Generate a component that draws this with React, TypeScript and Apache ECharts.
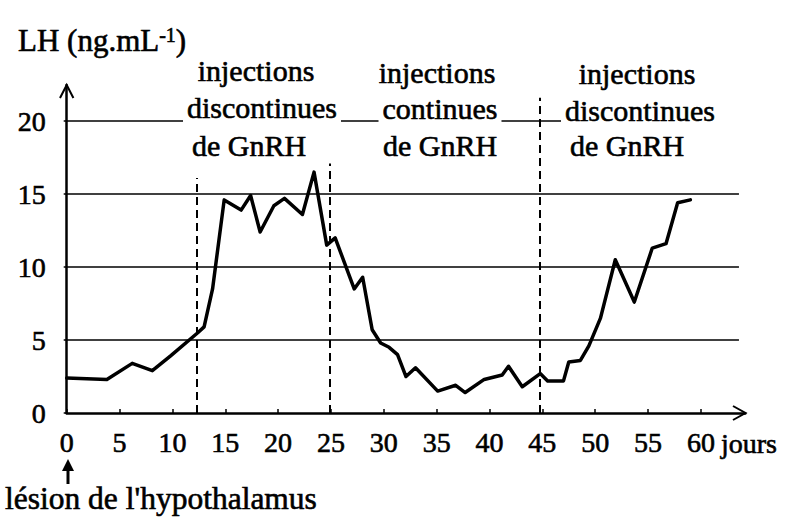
import React, { useEffect, useRef } from "react";
import * as echarts from "echarts";

// ---- data ----
const days = [0, 3.8, 6.2, 8.1, 9.8, 12.4, 13.0, 13.8, 14.9, 16.5, 17.4, 18.3, 19.6, 20.6, 22.3, 23.4, 24.6, 25.4, 27.2, 28.0, 28.9, 29.7, 30.5, 31.3, 32.1, 33.0, 35.1, 36.8, 37.7, 39.5, 41.2, 41.8, 43.1, 44.8, 45.5, 47.0, 47.5, 48.6, 49.4, 50.5, 51.9, 53.7, 55.4, 56.7, 57.8, 59.0];
const lhValues = [2.4, 2.3, 3.4, 2.9, 3.9, 5.5, 5.9, 8.5, 14.6, 13.9, 14.9, 12.4, 14.2, 14.7, 13.6, 16.5, 11.5, 12.0, 8.5, 9.3, 5.7, 4.8, 4.5, 4.0, 2.5, 3.1, 1.5, 1.9, 1.4, 2.3, 2.6, 3.2, 1.8, 2.7, 2.2, 2.2, 3.5, 3.6, 4.6, 6.5, 10.5, 7.6, 11.3, 11.6, 14.4, 14.6];

const xTickValues = [0, 5, 10, 15, 20, 25, 30, 35, 40, 45, 50, 55, 60];
const yTickValues = [0, 5, 10, 15, 20];
const gridLevels = [5, 10, 15, 20];
const gridEnds = [63.6, 63.6, 63.6, 61];
const phaseLimits = [12.3, 24.9, 44.8];
const phaseTops = [16.1, 17.1, 21.6];
const phaseLabels = [
  ["injections", "discontinues", "de GnRH"],
  ["injections", "continues", "de GnRH"],
  ["injections", "discontinues", "de GnRH"],
];
const yTitle = "LH (ng.mL";
const yTitleExp = "-1";
const xUnit = "jours";
const eventLabel = "lésion de l'hypothalamus";

const X_MAX = 64.2;
const Y_MAX = 22.47;

const FONT = "Liberation Serif";

export default function App() {
  const ref = useRef<HTMLDivElement>(null);

  useEffect(() => {
    document.body.style.margin = "0";
    if (!ref.current) return;
    const chart = echarts.init(ref.current, undefined, { renderer: "svg" });

    const txt = (text: string, x: number, y: number, size: number, align: string, extra: any = {}) => ({
      type: "text",
      x,
      y,
      z: 100,
      style: {
        text,
        fill: "#000",
        fontSize: size,
        fontFamily: FONT,
        align,
        verticalAlign: "middle",
        stroke: "#000",
        lineWidth: 0.6,
        ...extra,
      },
    });

    const phasePos = [
      [[256, 70], [262, 107], [249, 145]],
      [[437, 72], [440, 108], [440, 145]],
      [[637, 73], [640, 110], [627, 145]],
    ];
    const phaseTexts: any[] = [];
    phaseLabels.forEach((lines, i) => {
      lines.forEach((l, j) => {
        phaseTexts.push(
          txt(l, phasePos[i][j][0], phasePos[i][j][1], 30, "center", {
            backgroundColor: "#fff",
            padding: [0, 4, 0, 4],
          })
        );
      });
    });

    const markData: any[] = [];
    gridLevels.forEach((v, i) => {
      markData.push([
        { coord: [0, v], lineStyle: { color: "#000", width: 1.6, type: "solid" } },
        { coord: [gridEnds[i], v] },
      ]);
    });
    phaseLimits.forEach((x, i) => {
      markData.push([
        { coord: [x, 0], lineStyle: { color: "#000", width: 2, type: [8, 5] } },
        { coord: [x, phaseTops[i]] },
      ]);
    });

    chart.setOption({
      animation: false,
      backgroundColor: "#fff",
      grid: { left: 66.7, right: 791 - 66.7 - X_MAX * 10.57, top: 85, bottom: 113, containLabel: false },
      xAxis: {
        type: "value",
        min: 0,
        max: X_MAX,
        interval: 5,
        splitLine: { show: false },
        axisLine: { show: true, lineStyle: { color: "#000", width: 2.5 } },
        axisTick: { show: true, inside: true, length: 4, customValues: xTickValues, lineStyle: { color: "#000", width: 1.5 } },
        axisLabel: {
          show: true,
          customValues: xTickValues,
          color: "#000",
          fontSize: 28,
          fontFamily: FONT,
          margin: 15,
          textBorderColor: "#000",
          textBorderWidth: 0.6,
        },
      },
      yAxis: {
        type: "value",
        min: 0,
        max: Y_MAX,
        interval: 5,
        splitLine: { show: false },
        axisLine: { show: true, lineStyle: { color: "#000", width: 2.5 } },
        axisTick: { show: true, length: 3, customValues: yTickValues, lineStyle: { color: "#000", width: 1.5 } },
        axisLabel: {
          show: true,
          customValues: yTickValues,
          color: "#000",
          fontSize: 28,
          fontFamily: FONT,
          margin: 21,
          textBorderColor: "#000",
          textBorderWidth: 0.6,
        },
      },
      series: [
        {
          type: "line",
          data: days.map((d, i) => [d, lhValues[i]]),
          symbol: "none",
          lineStyle: { color: "#000", width: 3.5, join: "round", cap: "round" },
          z: 5,
          markLine: {
            silent: true,
            symbol: ["none", "none"],
            label: { show: false },
            data: markData,
            z: 3,
          },
        },
      ],
      graphic: [
        {
          type: "polyline",
          z: 100,
          shape: { points: [[60, 98], [66.7, 85], [73.4, 98]] },
          style: { stroke: "#000", lineWidth: 2, fill: null },
        },
        {
          type: "polyline",
          z: 100,
          shape: { points: [[733, 406], [745.5, 413], [733, 420]] },
          style: { stroke: "#000", lineWidth: 2, fill: null },
        },
        {
          type: "text",
          x: 18,
          y: 40,
          z: 100,
          style: {
            text: `{b|${yTitle}}{s|${yTitleExp}}{b|)}`,
            fill: "#000",
            align: "left",
            verticalAlign: "middle",
            rich: {
              b: { fontSize: 31, fontFamily: FONT, fill: "#000", stroke: "#000", lineWidth: 0.6 },
              s: { fontSize: 20, fontFamily: FONT, fill: "#000", verticalAlign: "top", stroke: "#000", lineWidth: 0.6 },
            },
          },
        },
        txt(xUnit, 721, 443, 28, "left"),
        {
          type: "polygon",
          z: 100,
          shape: { points: [[62, 471], [68, 459], [74, 471]] },
          style: { fill: "#000" },
        },
        {
          type: "line",
          z: 100,
          shape: { x1: 68, y1: 469, x2: 68, y2: 484 },
          style: { stroke: "#000", lineWidth: 3 },
        },
        txt(eventLabel, 5, 498, 31.5, "left"),
        ...phaseTexts,
      ],
    });

    return () => chart.dispose();
  }, []);

  return <div ref={ref} style={{ width: 791, height: 526 }} />;
}
